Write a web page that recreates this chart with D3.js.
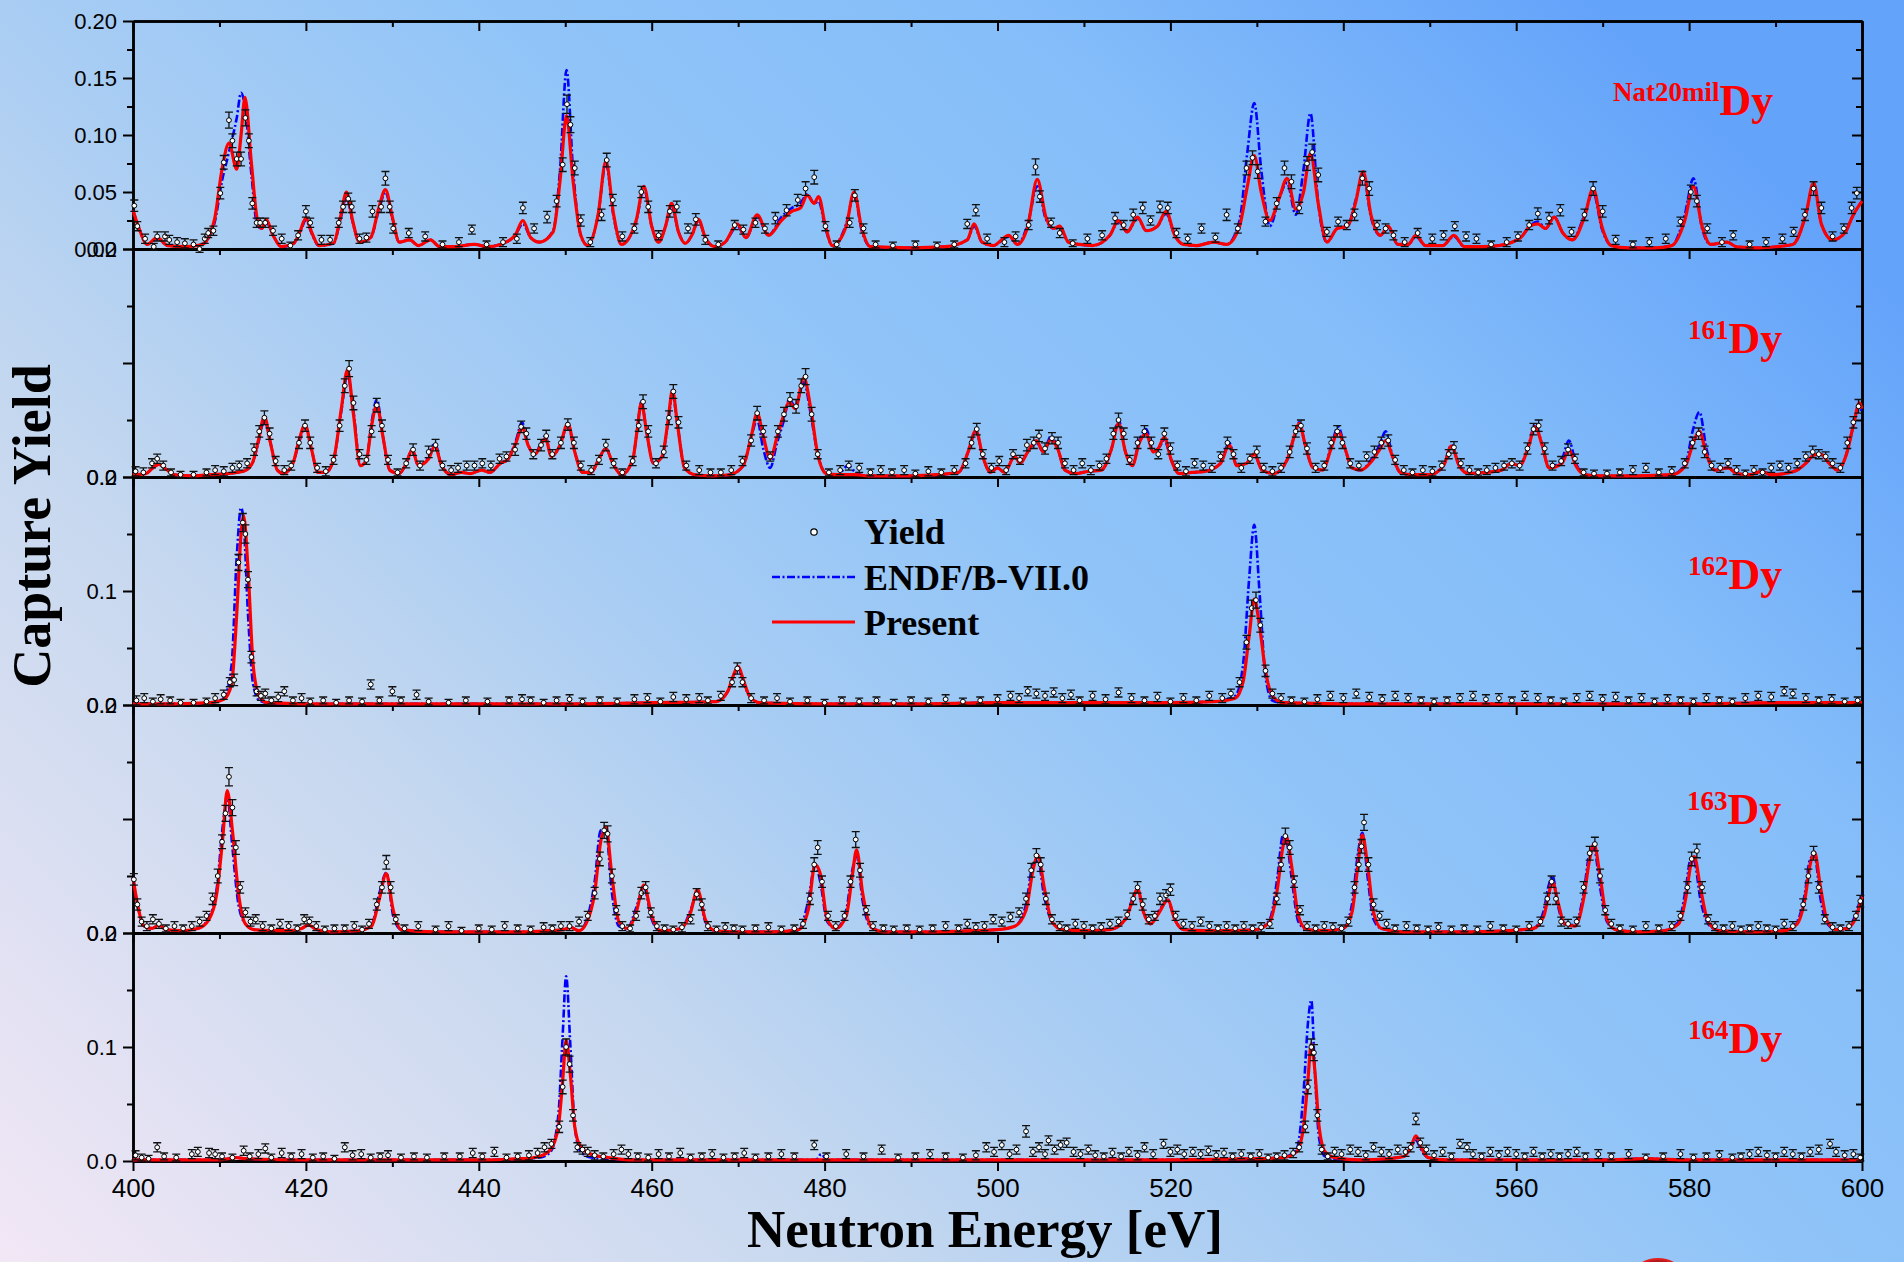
<!DOCTYPE html>
<html>
<head>
<meta charset="utf-8">
<title>Capture Yield - Dy isotopes</title>
<script src="https://d3js.org/d3.v7.min.js"></script>
<style>
  html, body { margin: 0; padding: 0; }
  body { width: 1904px; height: 1262px; overflow: hidden; }
</style>
</head>
<body>
<div id="chart"></div>
<script>
// curves: [energy eV, Present, ENDF/B-VII.0]
const natCurve = [
  [400,0.034,0.034],[400.8,0.016,0.016],[401.6,0.004,0.004],[402.8,0.010,0.009],[404,0.003,0.003],[406,0.002,0.002],[408,0.004,0.004],
  [409.4,0.025,0.022],[410.3,0.070,0.060],[411.1,0.093,0.085],[412,0.070,0.115],[412.5,0.100,0.137],[412.95,0.133,0.125],[413.7,0.075,0.065],[414.4,0.025,0.020],[414.9,0.018,0.018],[415.4,0.026,0.024],[416.2,0.012,0.012],[417.2,0.002,0.002],
  [418.6,0.005,0.005],[419.3,0.015,0.014],[420,0.027,0.025],[420.7,0.014,0.013],[421.5,0.003,0.003],
  [423.2,0.005,0.005],[424,0.028,0.026],[424.7,0.050,0.046],[425.4,0.025,0.024],[426.2,0.006,0.006],
  [427.5,0.010,0.010],[428.4,0.035,0.033],[429.2,0.052,0.050],[430,0.028,0.026],[430.8,0.006,0.006],
  [432,0.008,0.008],[433,0.003,0.003],[434.4,0.008,0.008],[435.5,0.002,0.002],[437,0.002,0.002],[439.5,0.004,0.004],[441,0.002,0.002],[442.5,0.004,0.004],
  [444.2,0.012,0.012],[445.1,0.025,0.022],[446,0.010,0.010],[447,0.006,0.006],[448.6,0.015,0.016],[449.4,0.060,0.070],[450.15,0.117,0.157],[450.9,0.060,0.070],[451.8,0.012,0.012],[452.6,0.003,0.003],
  [453.8,0.030,0.030],[454.7,0.077,0.075],[455.6,0.030,0.028],[456.5,0.004,0.004],
  [458.2,0.025,0.024],[459.1,0.055,0.053],[460,0.020,0.020],[460.8,0.006,0.006],
  [461.6,0.020,0.020],[462.3,0.040,0.038],[463.1,0.015,0.015],[463.9,0.005,0.005],
  [464.7,0.013,0.013],[465.4,0.026,0.025],[466.2,0.010,0.010],[467.3,0.002,0.002],
  [468.5,0.006,0.006],[469.9,0.022,0.020],[470.9,0.010,0.010],[472.2,0.030,0.028],[473.5,0.012,0.012],[475,0.025,0.028],[476.2,0.033,0.036],[477.2,0.036,0.040],[478,0.047,0.048],[478.8,0.040,0.040],[479.3,0.046,0.042],[480.1,0.020,0.018],[480.9,0.003,0.003],
  [482.5,0.020,0.022],[483.4,0.050,0.048],[484.3,0.018,0.016],[485.3,0.002,0.002],[490,0.001,0.001],[494,0.002,0.002],
  [496.5,0.008,0.008],[497.3,0.022,0.020],[498.2,0.006,0.006],[499.5,0.003,0.003],[501.3,0.012,0.011],[502.3,0.004,0.004],
  [503.5,0.020,0.022],[504.6,0.061,0.055],[505.6,0.028,0.026],[506.5,0.018,0.018],[507.2,0.020,0.019],[508.2,0.006,0.006],[509.5,0.004,0.004],[511,0.003,0.003],
  [513,0.012,0.012],[514,0.025,0.024],[515,0.015,0.015],[516.2,0.028,0.027],[517.2,0.016,0.016],[518.5,0.020,0.020],[519.5,0.033,0.031],[520.5,0.012,0.012],[521.5,0.004,0.004],[523,0.003,0.003],[525,0.006,0.006],[526.5,0.004,0.004],
  [528,0.020,0.025],[528.9,0.055,0.085],[529.7,0.082,0.128],[530.5,0.050,0.070],[531.5,0.025,0.020],[532.6,0.045,0.045],[533.5,0.062,0.058],[534.5,0.035,0.030],[535.4,0.050,0.070],[536.2,0.084,0.119],[537.1,0.040,0.040],[538.1,0.006,0.006],
  [539.3,0.018,0.018],[540.5,0.020,0.020],[541.4,0.040,0.042],[542.3,0.068,0.065],[543.2,0.030,0.028],[544.3,0.012,0.012],[545.2,0.020,0.019],[546.3,0.004,0.004],[547.5,0.004,0.004],[548.4,0.012,0.011],[549.5,0.003,0.003],[551.5,0.003,0.003],[552.8,0.012,0.011],[554,0.002,0.002],[556,0.002,0.002],[558,0.003,0.003],
  [560.5,0.010,0.010],[561.6,0.020,0.020],[562.5,0.022,0.024],[563.4,0.018,0.018],[564.4,0.028,0.028],[565.4,0.014,0.014],[566.5,0.008,0.008],[567.9,0.028,0.030],[568.9,0.053,0.050],[569.9,0.020,0.018],[571,0.003,0.003],[573,0.001,0.001],[576,0.001,0.001],[578,0.003,0.003],
  [579.5,0.025,0.030],[580.5,0.055,0.062],[581.5,0.020,0.018],[582.5,0.004,0.004],[584.4,0.006,0.006],[585.5,0.002,0.002],[588,0.001,0.001],[590,0.002,0.002],[592,0.004,0.004],
  [593.5,0.030,0.030],[594.4,0.058,0.057],[595.3,0.022,0.022],[596.6,0.008,0.008],[598,0.014,0.014],[599,0.030,0.030],[600,0.042,0.042]
];
const dy161Curve = [
  [400,0.002,0.002],[401.5,0.003,0.003],[402.3,0.008,0.008],[403,0.011,0.011],[403.8,0.007,0.007],[404.8,0.002,0.002],[407,0.001,0.001],[409,0.002,0.002],[411,0.003,0.003],[412.8,0.005,0.005],
  [413.8,0.012,0.012],[414.5,0.032,0.030],[415.2,0.053,0.050],[415.9,0.030,0.030],[416.7,0.006,0.006],[417.4,0.003,0.003],
  [418.5,0.012,0.012],[419.2,0.032,0.030],[419.9,0.046,0.044],[420.6,0.026,0.026],[421.4,0.004,0.004],[422.3,0.004,0.004],
  [423.2,0.015,0.015],[424.1,0.060,0.058],[424.8,0.094,0.090],[425.5,0.055,0.058],[426.3,0.010,0.010],
  [427,0.015,0.015],[427.6,0.045,0.048],[428.2,0.063,0.068],[428.9,0.036,0.036],[429.7,0.006,0.006],[430.8,0.003,0.003],
  [431.6,0.012,0.012],[432.3,0.024,0.024],[433,0.010,0.010],[434.2,0.016,0.018],[434.9,0.027,0.030],[435.7,0.010,0.010],[436.8,0.002,0.002],
  [438,0.004,0.004],[439,0.003,0.003],[440.3,0.006,0.006],[441.3,0.004,0.004],[442.5,0.012,0.012],[443.3,0.015,0.015],
  [444.3,0.030,0.032],[445,0.044,0.048],[445.7,0.028,0.028],[446.5,0.020,0.020],[447.3,0.030,0.032],[447.7,0.034,0.036],[448.4,0.018,0.018],[449.4,0.028,0.028],[450.3,0.047,0.046],[451.1,0.022,0.022],[452,0.004,0.004],
  [453,0.004,0.004],[453.9,0.016,0.016],[454.7,0.025,0.025],[455.5,0.012,0.012],[456.5,0.002,0.002],
  [457.8,0.015,0.015],[458.3,0.040,0.040],[458.8,0.065,0.066],[459.4,0.040,0.040],[460.2,0.012,0.012],
  [461.2,0.018,0.018],[461.9,0.050,0.048],[462.4,0.076,0.072],[463,0.045,0.045],[463.8,0.008,0.008],[465,0.002,0.002],[467,0.001,0.001],[469,0.002,0.002],
  [470.6,0.010,0.010],[471.5,0.035,0.035],[472.2,0.056,0.050],[472.9,0.036,0.025],[473.7,0.016,0.008],[474.5,0.035,0.030],[475.3,0.055,0.050],[475.9,0.066,0.068],[476.6,0.060,0.062],[477.6,0.087,0.083],[478.4,0.060,0.055],[479.2,0.020,0.020],[480.2,0.003,0.003],
  [481.5,0.002,0.002],[482.7,0.002,0.010],[483.6,0.002,0.004],[485,0.001,0.001],[487,0.001,0.001],[490,0.001,0.001],[493,0.002,0.002],
  [495.5,0.004,0.004],[496.6,0.022,0.022],[497.5,0.041,0.040],[498.3,0.018,0.018],[499.2,0.004,0.004],[500,0.008,0.008],[500.8,0.004,0.004],
  [502,0.018,0.018],[502.6,0.012,0.012],[503.5,0.022,0.022],[504.5,0.032,0.030],[505.3,0.022,0.022],[506.2,0.033,0.036],[507,0.024,0.024],[507.8,0.006,0.006],[509,0.003,0.003],[510.5,0.005,0.005],[512,0.006,0.006],
  [513.2,0.025,0.025],[514,0.047,0.050],[514.8,0.022,0.022],[515.6,0.010,0.010],[516.4,0.030,0.032],[517.2,0.038,0.042],[518,0.022,0.022],[518.6,0.025,0.025],[519.3,0.035,0.032],[520.1,0.015,0.015],[521,0.003,0.003],[522.5,0.004,0.004],[524,0.005,0.005],
  [525.8,0.012,0.012],[526.8,0.028,0.030],[527.7,0.010,0.010],[528.8,0.012,0.012],[529.7,0.020,0.020],[530.6,0.006,0.006],[532,0.003,0.003],
  [533.5,0.015,0.015],[534.3,0.035,0.035],[534.9,0.047,0.048],[535.6,0.028,0.028],[536.5,0.008,0.008],[537.6,0.006,0.006],
  [538.6,0.025,0.027],[539.4,0.040,0.044],[540.2,0.025,0.025],[541,0.008,0.008],[542,0.006,0.006],
  [543.3,0.014,0.016],[544.2,0.024,0.028],[544.9,0.032,0.040],[545.7,0.018,0.018],[546.6,0.004,0.004],[548,0.002,0.002],[550,0.002,0.002],
  [551.6,0.010,0.010],[552.5,0.027,0.028],[553.4,0.010,0.010],[554.5,0.003,0.003],[556.5,0.004,0.004],[558.3,0.006,0.006],[559.4,0.012,0.012],[560.4,0.010,0.010],
  [561.4,0.026,0.027],[562.2,0.044,0.046],[563,0.028,0.028],[563.8,0.008,0.008],[565.3,0.012,0.016],[566.1,0.024,0.032],[566.9,0.010,0.012],[568,0.002,0.002],[570,0.001,0.001],[574,0.001,0.001],[578,0.002,0.002],
  [579.6,0.010,0.012],[580.4,0.028,0.040],[581.2,0.040,0.057],[582,0.020,0.025],[583,0.006,0.006],[584.5,0.008,0.008],[585.5,0.003,0.003],[587,0.002,0.002],[588.4,0.005,0.005],[589.5,0.002,0.002],[591,0.003,0.003],
  [592.5,0.006,0.006],[593.5,0.012,0.012],[594.4,0.019,0.019],[595.2,0.020,0.020],[596.2,0.012,0.012],[597.2,0.006,0.006],[598.2,0.020,0.020],[599,0.045,0.045],[599.7,0.065,0.062],[600,0.060,0.056]
];
const dy162Curve = [
  [400,0.001,0.001],[405,0.001,0.001],[409,0.002,0.002],[410.5,0.005,0.006],[411.4,0.018,0.035],[412,0.080,0.130],[412.5,0.150,0.173],[412.8,0.166,0.160],[413.3,0.120,0.080],[413.9,0.035,0.018],[414.6,0.008,0.004],[415.5,0.002,0.002],
  [420,0.001,0.001],[430,0.001,0.001],[440,0.001,0.001],[450,0.001,0.001],[460,0.002,0.002],
  [467.5,0.003,0.003],[468.8,0.012,0.012],[469.4,0.025,0.024],[470,0.034,0.032],[470.6,0.022,0.020],[471.3,0.008,0.008],[472.5,0.002,0.002],
  [480,0.001,0.001],[490,0.001,0.001],[500,0.002,0.002],[510,0.002,0.002],[520,0.002,0.002],[525,0.003,0.003],
  [527.5,0.006,0.008],[528.4,0.020,0.035],[529.1,0.060,0.110],[529.7,0.093,0.158],[530.3,0.070,0.100],[531,0.030,0.025],[531.8,0.008,0.004],[533,0.002,0.002],
  [540,0.001,0.001],[550,0.001,0.001],[560,0.001,0.001],[570,0.001,0.001],[580,0.001,0.001],[590,0.002,0.002],[600,0.002,0.002]
];
const dy163Curve = [
  [400,0.049,0.049],[400.6,0.022,0.022],[401.3,0.006,0.006],[402.2,0.004,0.004],[403,0.007,0.007],[403.8,0.003,0.003],[405.5,0.002,0.002],[407.5,0.004,0.004],
  [408.8,0.012,0.014],[409.7,0.035,0.040],[410.4,0.085,0.095],[410.9,0.125,0.120],[411.5,0.090,0.075],[412.2,0.035,0.025],[413,0.008,0.008],[414,0.003,0.003],[416,0.002,0.002],[418,0.002,0.002],
  [419.5,0.004,0.004],[420.3,0.007,0.007],[421.2,0.003,0.003],[423,0.001,0.001],[426,0.002,0.002],
  [427.6,0.006,0.007],[428.5,0.030,0.035],[429.3,0.052,0.053],[430.1,0.020,0.015],[431,0.003,0.003],[435,0.001,0.001],[440,0.001,0.001],[445,0.001,0.001],[448,0.002,0.002],
  [449.8,0.003,0.003],[450.6,0.005,0.005],[451.6,0.002,0.002],[452.4,0.008,0.010],[453.4,0.035,0.045],[454.1,0.080,0.090],[454.7,0.093,0.090],[455.4,0.050,0.035],[456.2,0.010,0.006],[457.2,0.004,0.004],
  [458.2,0.018,0.022],[459.1,0.042,0.040],[460,0.015,0.012],[461,0.002,0.002],[463.4,0.004,0.004],[464.5,0.018,0.020],[465.3,0.038,0.036],[466.2,0.012,0.010],[467.3,0.002,0.002],
  [470,0.001,0.001],[474,0.001,0.001],[477,0.003,0.003],[478.1,0.020,0.028],[478.9,0.060,0.060],[479.5,0.052,0.045],[480.3,0.012,0.010],[481.3,0.004,0.004],
  [482.5,0.015,0.020],[483.2,0.050,0.055],[483.7,0.073,0.068],[484.4,0.035,0.028],[485.4,0.005,0.005],[487,0.001,0.001],[492,0.001,0.001],[497,0.002,0.002],[500,0.003,0.003],[502,0.006,0.006],
  [503.3,0.020,0.025],[504.1,0.055,0.060],[504.7,0.068,0.063],[505.4,0.040,0.032],[506.3,0.010,0.010],[507.5,0.003,0.003],[510,0.002,0.002],[513,0.003,0.003],
  [514.8,0.012,0.012],[515.6,0.028,0.030],[516.2,0.039,0.038],[516.9,0.018,0.018],[517.7,0.008,0.008],[518.7,0.018,0.020],[519.7,0.029,0.028],[520.5,0.012,0.012],[521.5,0.003,0.003],[524,0.002,0.002],[527,0.002,0.002],[530,0.003,0.003],
  [531.5,0.010,0.012],[532.4,0.040,0.050],[533,0.075,0.085],[533.4,0.085,0.082],[534,0.060,0.050],[534.8,0.015,0.010],[535.8,0.003,0.003],[538,0.002,0.002],
  [540,0.004,0.004],[541,0.018,0.025],[541.7,0.060,0.070],[542.2,0.086,0.088],[542.8,0.060,0.050],[543.5,0.018,0.012],[544.4,0.004,0.004],[547,0.001,0.001],[551,0.001,0.001],[555,0.001,0.001],[559,0.002,0.002],
  [562,0.004,0.004],[563.2,0.015,0.020],[563.7,0.032,0.040],[564.2,0.045,0.050],[564.8,0.028,0.025],[565.6,0.008,0.008],[566.8,0.006,0.007],
  [567.8,0.030,0.035],[568.5,0.065,0.070],[569,0.078,0.074],[569.7,0.050,0.040],[570.5,0.012,0.010],[571.5,0.003,0.003],[574,0.001,0.001],[577,0.002,0.002],
  [578.8,0.008,0.010],[579.6,0.030,0.038],[580.2,0.060,0.065],[580.6,0.067,0.063],[581.3,0.040,0.030],[582.2,0.010,0.008],[583.5,0.002,0.002],[587,0.001,0.001],[591,0.002,0.002],
  [592.5,0.008,0.010],[593.4,0.030,0.035],[594,0.060,0.065],[594.5,0.071,0.068],[595.2,0.040,0.030],[596,0.010,0.008],[597,0.003,0.003],[598.2,0.004,0.004],[599.2,0.012,0.015],[600,0.032,0.035]
];
const dy164Curve = [
  [400,0.001,0.001],[410,0.001,0.001],[411,0.002,0.002],[412,0.003,0.003],[413,0.002,0.002],[420,0.001,0.001],[430,0.001,0.001],[440,0.001,0.001],[445,0.002,0.002],[447,0.004,0.003],
  [448.3,0.010,0.008],[449.2,0.030,0.040],[449.7,0.070,0.110],[450.1,0.106,0.162],[450.6,0.075,0.100],[451.1,0.030,0.030],[451.8,0.012,0.008],[453,0.006,0.003],[455,0.003,0.002],[458,0.001,0.001],
  [470,0.001,0.001],[479,0.001,0.001],[479.6,0.001,0.006],[480.3,0.001,0.001],[490,0.001,0.001],[500,0.001,0.001],[510,0.001,0.001],[520,0.001,0.001],[530,0.002,0.002],[533,0.003,0.003],
  [534.6,0.008,0.010],[535.4,0.030,0.060],[535.9,0.070,0.120],[536.3,0.103,0.141],[536.7,0.080,0.080],[537.2,0.030,0.020],[537.9,0.008,0.004],[539,0.003,0.002],[542,0.001,0.001],
  [545,0.002,0.002],[547,0.004,0.004],[547.8,0.012,0.012],[548.4,0.022,0.018],[549,0.012,0.010],[549.8,0.003,0.003],[552,0.001,0.001],
  [560,0.001,0.001],[570,0.001,0.001],[575,0.002,0.002],[580,0.001,0.001],[590,0.001,0.001],[600,0.001,0.001]
];

// measured yield: [energy eV, yield, uncertainty]
const natYield = [
  [400.15,0.038,0.005],[400.5,0.020,0.004],[401.4,0.009,0.004],[402.4,0.002,0.003],[402.8,0.011,0.004],[403.7,0.011,0.004],[404.2,0.008,0.004],[405.1,0.006,0.004],[406,0.005,0.004],[407,0.004,0.004],[407.7,0.000,0.003],[408.3,0.009,0.004],[408.7,0.014,0.004],[409.3,0.016,0.004],
  [410.1,0.049,0.005],[410.5,0.076,0.006],[411.1,0.113,0.007],[411.5,0.095,0.006],[412,0.079,0.006],[412.5,0.079,0.006],[413,0.115,0.007],[413.4,0.095,0.006],[413.8,0.040,0.005],[414.3,0.023,0.004],[414.7,0.023,0.004],[415.3,0.023,0.004],[416.2,0.016,0.004],[417.2,0.009,0.004],[418.2,0.003,0.003],[419.1,0.012,0.004],
  [420,0.033,0.005],[420.5,0.023,0.004],[421.8,0.008,0.004],[422.8,0.008,0.004],[423.8,0.023,0.004],[424.3,0.037,0.005],[424.9,0.044,0.005],[425.3,0.037,0.005],[426.2,0.009,0.004],[427,0.010,0.004],[427.7,0.033,0.005],[428.7,0.037,0.005],[429.2,0.062,0.006],[429.7,0.037,0.005],[430.1,0.018,0.004],
  [431.9,0.014,0.004],[433.8,0.011,0.004],[435.8,0.004,0.003],[437.7,0.006,0.004],[439.2,0.017,0.004],[440.9,0.004,0.003],[442.8,0.006,0.004],[444.4,0.009,0.004],[445.1,0.036,0.005],[446.4,0.018,0.004],[447.9,0.028,0.005],[449,0.042,0.005],[449.7,0.074,0.006],[450.2,0.127,0.008],[450.6,0.109,0.007],[451.1,0.071,0.006],[451.8,0.025,0.005],[452.9,0.006,0.004],
  [454.2,0.030,0.005],[454.8,0.078,0.006],[455.5,0.043,0.005],[456.6,0.011,0.004],[458,0.018,0.004],[458.8,0.050,0.005],[459.6,0.037,0.005],[460.8,0.012,0.004],[462.1,0.033,0.005],[462.9,0.037,0.005],[464.2,0.018,0.004],[465.1,0.026,0.005],[466.2,0.008,0.004],[467.7,0.004,0.003],
  [469.6,0.021,0.004],[470.6,0.017,0.004],[472,0.023,0.004],[473.1,0.018,0.004],[474.3,0.027,0.005],[475.6,0.034,0.005],[476.9,0.043,0.005],[477.8,0.053,0.006],[478.8,0.063,0.006],[480.1,0.020,0.004],[481.4,0.004,0.003],[482.9,0.023,0.004],[483.5,0.047,0.005],[484.5,0.018,0.004],[485.9,0.004,0.003],
  [487.9,0.003,0.003],[490.5,0.004,0.003],[493,0.003,0.003],[495,0.004,0.003],[496.5,0.022,0.004],[497.5,0.034,0.005],[498.8,0.009,0.004],[500.8,0.006,0.004],[502.1,0.011,0.004],[503.6,0.021,0.004],[504.4,0.072,0.007],[504.9,0.046,0.005],[506.2,0.023,0.004],[507.2,0.014,0.004],[508.7,0.005,0.003],
  [510.4,0.009,0.004],[512.1,0.012,0.004],[513.6,0.027,0.005],[514.6,0.021,0.004],[515.7,0.030,0.005],[516.8,0.036,0.005],[517.7,0.025,0.004],[518.8,0.037,0.005],[519.7,0.036,0.005],[520.7,0.014,0.004],[522,0.009,0.004],[523.6,0.018,0.004],[525.2,0.010,0.004],[526.5,0.030,0.005],[527.8,0.018,0.004],
  [528.8,0.071,0.006],[529.5,0.080,0.006],[530.1,0.068,0.006],[531,0.024,0.004],[532.3,0.040,0.005],[533.2,0.071,0.006],[534,0.059,0.006],[534.9,0.036,0.005],[535.8,0.075,0.006],[536.4,0.085,0.007],[537.1,0.065,0.006],[538.1,0.015,0.004],[539.4,0.024,0.004],[540.4,0.021,0.004],
  [541.3,0.030,0.005],[542.2,0.062,0.006],[543,0.053,0.006],[543.9,0.021,0.004],[544.9,0.018,0.004],[545.8,0.012,0.004],[547.1,0.006,0.004],[548.6,0.014,0.004],[550.3,0.009,0.004],[551.6,0.012,0.004],[552.9,0.020,0.004],[554.2,0.011,0.004],[555.4,0.009,0.004],[557.1,0.004,0.003],[558.9,0.006,0.004],
  [560.2,0.011,0.004],[561.5,0.021,0.004],[562.5,0.031,0.005],[563.8,0.027,0.005],[565.1,0.034,0.005],[566.4,0.015,0.004],[567.9,0.030,0.005],[568.9,0.053,0.006],[570,0.033,0.005],[571.5,0.008,0.004],[573.5,0.004,0.003],[575.4,0.006,0.004],[577.3,0.009,0.004],
  [579,0.024,0.004],[580.2,0.050,0.006],[580.9,0.042,0.005],[582.1,0.018,0.004],[583.8,0.006,0.004],[585.1,0.012,0.004],[587,0.004,0.003],[588.9,0.006,0.004],[590.8,0.009,0.004],[592.1,0.015,0.004],[593.4,0.030,0.005],[594.4,0.053,0.006],[595.3,0.036,0.005],[596.6,0.011,0.004],[597.9,0.018,0.004],[598.8,0.036,0.005],[599.4,0.049,0.005]
];
const dy161Yield = [
  [400.3,0.005,0.004],[401.2,0.004,0.004],[402.2,0.012,0.004],[402.8,0.016,0.004],[403.5,0.010,0.004],[404.4,0.004,0.003],[405.5,0.002,0.003],[407,0.002,0.003],[408.5,0.004,0.003],[409.5,0.006,0.004],[410.5,0.005,0.004],[411.5,0.008,0.004],[412.3,0.010,0.004],[413.2,0.012,0.004],
  [414,0.024,0.005],[414.6,0.040,0.005],[415.2,0.052,0.006],[415.8,0.038,0.005],[416.5,0.014,0.004],[417.5,0.006,0.004],[418.3,0.010,0.004],[419.2,0.030,0.005],[419.9,0.045,0.005],[420.5,0.030,0.005],[421.3,0.008,0.004],[422.3,0.005,0.004],
  [423.2,0.015,0.004],[423.9,0.045,0.005],[424.5,0.080,0.006],[425,0.095,0.007],[425.5,0.065,0.006],[426.2,0.020,0.004],[427,0.015,0.004],[427.6,0.040,0.005],[428.2,0.063,0.006],[428.8,0.045,0.005],[429.5,0.015,0.004],[430.6,0.004,0.003],
  [431.6,0.012,0.004],[432.4,0.024,0.005],[433.2,0.010,0.004],[434.2,0.022,0.005],[435,0.028,0.005],[435.8,0.010,0.004],[436.8,0.006,0.004],[437.6,0.008,0.004],[438.6,0.010,0.004],[439.5,0.010,0.004],[440.4,0.012,0.004],[441.4,0.010,0.004],[442.4,0.016,0.004],[443.2,0.018,0.004],
  [444.2,0.024,0.005],[444.9,0.044,0.005],[445.5,0.038,0.005],[446.3,0.020,0.004],[447.2,0.028,0.005],[447.8,0.036,0.005],[448.5,0.020,0.004],[449.5,0.030,0.005],[450.3,0.046,0.005],[451,0.030,0.005],[451.8,0.010,0.004],[453,0.006,0.004],[453.9,0.015,0.004],[454.7,0.028,0.005],[455.6,0.012,0.004],[456.6,0.004,0.003],
  [457.8,0.014,0.004],[458.5,0.045,0.005],[459,0.066,0.006],[459.6,0.040,0.005],[460.5,0.012,0.004],[461.4,0.022,0.005],[462,0.052,0.006],[462.5,0.075,0.006],[463.1,0.048,0.005],[464,0.010,0.004],[465.5,0.006,0.004],[466.8,0.004,0.003],[468,0.004,0.003],[469.2,0.006,0.004],
  [470.5,0.014,0.004],[471.5,0.032,0.005],[472.2,0.056,0.006],[472.9,0.040,0.005],[473.7,0.018,0.004],[474.6,0.040,0.005],[475.3,0.055,0.006],[476,0.068,0.006],[476.7,0.062,0.006],[477.3,0.080,0.006],[477.8,0.088,0.007],[478.5,0.055,0.006],[479.2,0.020,0.004],
  [480.5,0.004,0.003],[481.8,0.006,0.004],[482.8,0.010,0.004],[484,0.008,0.004],[485.3,0.004,0.003],[486.5,0.006,0.004],[487.8,0.004,0.003],[489.2,0.006,0.004],[490.5,0.003,0.003],[492,0.005,0.004],[493.5,0.004,0.003],[495,0.006,0.004],
  [496.3,0.012,0.004],[497,0.030,0.005],[497.6,0.042,0.005],[498.3,0.020,0.004],[499.3,0.008,0.004],[500.2,0.014,0.004],[501,0.006,0.004],[501.8,0.020,0.004],[502.6,0.015,0.004],[503.4,0.028,0.005],[504.2,0.030,0.005],[504.8,0.036,0.005],[505.5,0.025,0.005],[506.3,0.034,0.005],[507,0.030,0.005],[507.8,0.012,0.004],
  [508.8,0.006,0.004],[509.8,0.012,0.004],[510.8,0.006,0.004],[511.8,0.010,0.004],[512.6,0.016,0.004],[513.4,0.038,0.005],[514,0.050,0.006],[514.6,0.038,0.005],[515.3,0.015,0.004],[516.2,0.030,0.005],[517,0.040,0.005],[517.8,0.030,0.005],[518.6,0.020,0.004],[519.3,0.038,0.005],[520,0.025,0.005],[520.8,0.010,0.004],
  [521.8,0.005,0.004],[522.8,0.012,0.004],[523.8,0.010,0.004],[524.8,0.008,0.004],[525.8,0.018,0.004],[526.6,0.030,0.005],[527.3,0.020,0.004],[528.2,0.008,0.004],[529.2,0.016,0.004],[530,0.022,0.005],[530.8,0.008,0.004],[531.8,0.005,0.004],[532.8,0.008,0.004],
  [533.8,0.022,0.005],[534.5,0.040,0.005],[535.1,0.045,0.005],[535.8,0.025,0.005],[536.8,0.008,0.004],[537.8,0.010,0.004],[538.6,0.030,0.005],[539.3,0.040,0.005],[539.9,0.030,0.005],[540.8,0.012,0.004],[541.8,0.010,0.004],[542.7,0.018,0.004],[543.6,0.022,0.005],[544.4,0.030,0.005],[545.2,0.032,0.005],[546,0.015,0.004],
  [547,0.006,0.004],[548,0.004,0.003],[549.2,0.006,0.004],[550.3,0.005,0.004],[551.4,0.010,0.004],[552.2,0.020,0.004],[552.8,0.026,0.005],[553.6,0.012,0.004],[554.6,0.006,0.004],[555.6,0.004,0.003],[556.6,0.006,0.004],[557.6,0.008,0.004],[558.6,0.010,0.004],[559.5,0.012,0.004],[560.4,0.010,0.004],
  [561.3,0.025,0.005],[562,0.042,0.005],[562.6,0.045,0.005],[563.3,0.025,0.005],[564.2,0.010,0.004],[565.2,0.014,0.004],[566,0.024,0.005],[566.8,0.016,0.004],[567.8,0.004,0.003],[569,0.003,0.003],[570.5,0.003,0.003],[572,0.004,0.003],[573.5,0.006,0.004],[575,0.008,0.004],[576.5,0.004,0.003],[578,0.005,0.004],
  [579.5,0.012,0.004],[580.4,0.030,0.005],[581.1,0.038,0.005],[581.8,0.022,0.005],[582.6,0.010,0.004],[583.6,0.008,0.004],[584.5,0.012,0.004],[585.5,0.006,0.004],[586.5,0.003,0.003],[587.5,0.006,0.004],[588.5,0.004,0.003],[589.5,0.008,0.004],[590.5,0.010,0.004],[591.5,0.008,0.004],
  [592.5,0.012,0.004],[593.5,0.018,0.004],[594.3,0.022,0.005],[595,0.020,0.004],[595.8,0.018,0.004],[596.6,0.012,0.004],[597.5,0.008,0.004],[598.3,0.030,0.005],[599,0.048,0.005],[599.6,0.062,0.006]
];
const dy162Yield = [
  [400.4,0.004,0.004],[401.3,0.006,0.004],[402.3,0.003,0.003],[403.2,0.005,0.004],[404.3,0.004,0.003],[405.5,0.002,0.003],[407,0.002,0.003],[408.5,0.003,0.003],[409.5,0.006,0.004],[410.5,0.009,0.004],[411.2,0.020,0.004],[411.7,0.022,0.005],
  [412.2,0.125,0.007],[412.7,0.160,0.008],[413,0.150,0.008],[413.3,0.110,0.007],[413.7,0.042,0.005],[414.3,0.012,0.004],[414.8,0.008,0.004],[415.3,0.010,0.004],[416,0.004,0.003],[416.8,0.007,0.004],[417.5,0.012,0.004],[418.5,0.004,0.003],[419.5,0.006,0.004],[420.5,0.003,0.003],
  [422,0.004,0.003],[423.5,0.002,0.003],[425,0.004,0.003],[426.5,0.003,0.003],[427.5,0.018,0.004],[428.5,0.004,0.003],[430,0.012,0.004],[431,0.004,0.003],[432.8,0.009,0.004],[434.2,0.003,0.003],[436.5,0.002,0.003],[438.5,0.004,0.003],[441,0.003,0.003],[443.5,0.004,0.003],
  [445,0.005,0.004],[446,0.004,0.003],[447.5,0.002,0.003],[449,0.004,0.003],[450.5,0.005,0.004],[452,0.003,0.003],[454,0.004,0.003],[456,0.003,0.003],[458,0.005,0.004],[459.5,0.006,0.004],[461,0.003,0.003],[462.5,0.007,0.004],[464,0.005,0.004],[465.5,0.006,0.004],[466.5,0.004,0.003],
  [468,0.008,0.004],[469.3,0.020,0.004],[469.9,0.032,0.005],[470.5,0.020,0.004],[471.5,0.006,0.004],[473,0.004,0.003],[474.5,0.006,0.004],[476,0.003,0.003],[478,0.004,0.003],[480,0.002,0.003],[482,0.004,0.003],[484,0.003,0.003],[486,0.004,0.003],[488,0.002,0.003],
  [490,0.004,0.003],[492,0.003,0.003],[494,0.005,0.004],[496,0.003,0.003],[498,0.004,0.003],[500,0.005,0.004],[501.5,0.008,0.004],[502.5,0.006,0.004],[503.5,0.012,0.004],[504.5,0.010,0.004],[505.5,0.008,0.004],[506.5,0.011,0.004],[507.5,0.006,0.004],[508.5,0.009,0.004],
  [509.5,0.004,0.003],[511,0.008,0.004],[512.5,0.005,0.004],[514,0.011,0.004],[515.5,0.006,0.004],[517,0.004,0.003],[518.5,0.007,0.004],[520,0.003,0.003],[521.5,0.006,0.004],[523,0.004,0.003],[524.5,0.008,0.004],[526,0.006,0.004],[527,0.010,0.004],
  [528,0.020,0.004],[528.8,0.055,0.006],[529.4,0.085,0.007],[529.9,0.092,0.007],[530.4,0.070,0.006],[531,0.030,0.005],[531.8,0.010,0.004],[532.8,0.006,0.004],[534,0.004,0.003],[535.5,0.003,0.003],[537,0.005,0.004],[538.5,0.008,0.004],[540,0.006,0.004],
  [541.5,0.010,0.004],[543,0.007,0.004],[544.5,0.005,0.004],[546,0.008,0.004],[547.5,0.006,0.004],[549,0.004,0.003],[550.5,0.003,0.003],[552,0.004,0.003],[553.5,0.006,0.004],[555,0.008,0.004],[556.5,0.005,0.004],[558,0.006,0.004],[559.5,0.004,0.003],
  [561,0.008,0.004],[562.5,0.006,0.004],[564,0.004,0.003],[565.5,0.003,0.003],[567,0.006,0.004],[568.5,0.008,0.004],[570,0.005,0.004],[571.5,0.007,0.004],[573,0.004,0.003],[574.5,0.006,0.004],[576,0.003,0.003],[577.5,0.005,0.004],[579,0.004,0.003],
  [580.5,0.003,0.003],[582,0.006,0.004],[583.5,0.004,0.003],[585,0.003,0.003],[586.5,0.006,0.004],[588,0.008,0.004],[589.5,0.007,0.004],[591,0.012,0.004],[592,0.010,0.004],[593.5,0.006,0.004],[595,0.004,0.003],[596.5,0.005,0.004],[598,0.003,0.003],[599.5,0.004,0.003]
];
const dy163Yield = [
  [400.1,0.047,0.005],[400.5,0.025,0.005],[401,0.010,0.004],[401.6,0.006,0.004],[402.3,0.012,0.004],[403,0.008,0.004],[403.8,0.004,0.003],[404.8,0.006,0.004],[405.8,0.004,0.003],[406.8,0.006,0.004],[407.7,0.010,0.004],[408.5,0.015,0.004],
  [409.2,0.030,0.005],[409.8,0.050,0.006],[410.3,0.080,0.006],[410.7,0.105,0.007],[411.1,0.137,0.008],[411.5,0.110,0.007],[411.9,0.075,0.006],[412.4,0.040,0.005],[413,0.018,0.004],[413.6,0.010,0.004],[414.2,0.012,0.004],[415,0.006,0.004],[416,0.004,0.003],[417,0.008,0.004],
  [418,0.006,0.004],[419,0.004,0.003],[419.8,0.012,0.004],[420.4,0.010,0.004],[421.2,0.006,0.004],[422.2,0.003,0.003],[423.3,0.004,0.003],[424.5,0.004,0.003],[425.6,0.006,0.004],[426.5,0.003,0.003],[427.3,0.008,0.004],
  [428.2,0.025,0.005],[428.8,0.040,0.005],[429.3,0.062,0.006],[429.8,0.040,0.005],[430.4,0.012,0.004],[431.4,0.004,0.003],[433,0.006,0.004],[435,0.003,0.003],[436.5,0.006,0.004],[438,0.002,0.003],[440,0.004,0.003],[441.5,0.003,0.003],[443,0.006,0.004],[444.5,0.004,0.003],
  [446,0.003,0.003],[447.5,0.005,0.004],[448.5,0.004,0.003],[449.5,0.006,0.004],[450.5,0.006,0.004],[451.6,0.010,0.004],[452.6,0.015,0.004],[453.4,0.035,0.005],[454,0.065,0.006],[454.5,0.090,0.007],[454.9,0.087,0.007],[455.4,0.050,0.006],[455.9,0.020,0.004],[456.6,0.006,0.004],
  [457.5,0.004,0.003],[458.2,0.015,0.004],[458.8,0.035,0.005],[459.3,0.040,0.005],[459.9,0.018,0.004],[460.6,0.006,0.004],[461.5,0.004,0.003],[462.5,0.003,0.003],[463.5,0.005,0.004],[464.5,0.012,0.004],[465.2,0.034,0.005],[465.8,0.025,0.005],[466.5,0.006,0.004],
  [467.5,0.003,0.003],[468.5,0.005,0.004],[469.5,0.004,0.003],[470.5,0.003,0.003],[472,0.004,0.003],[473.5,0.005,0.004],[475,0.003,0.003],[476.5,0.004,0.003],[477.5,0.008,0.004],[478.3,0.030,0.005],[478.8,0.060,0.006],[479.2,0.075,0.006],[479.7,0.045,0.005],[480.4,0.015,0.004],
  [481.3,0.006,0.004],[482.3,0.015,0.004],[483,0.045,0.005],[483.6,0.082,0.007],[484.1,0.055,0.006],[484.8,0.020,0.004],[485.6,0.006,0.004],[486.8,0.004,0.003],[488,0.003,0.003],[489.5,0.004,0.003],[491,0.003,0.003],[492.5,0.004,0.003],[494,0.006,0.004],[495.5,0.004,0.003],
  [496.5,0.008,0.004],[497.5,0.005,0.004],[498.5,0.006,0.004],[499.5,0.012,0.004],[500.5,0.010,0.004],[501.5,0.014,0.004],[502.5,0.018,0.004],[503.3,0.030,0.005],[503.9,0.055,0.006],[504.5,0.068,0.006],[505,0.060,0.006],[505.6,0.030,0.005],[506.3,0.012,0.004],
  [507.2,0.006,0.004],[508,0.004,0.003],[509,0.008,0.004],[510,0.006,0.004],[511,0.004,0.003],[512,0.005,0.004],[513,0.008,0.004],[514,0.010,0.004],[515,0.016,0.004],[515.7,0.030,0.005],[516.2,0.040,0.005],[516.8,0.025,0.005],[517.5,0.012,0.004],
  [518.2,0.015,0.004],[518.8,0.030,0.005],[519.5,0.033,0.005],[520,0.038,0.005],[520.6,0.015,0.004],[521.5,0.008,0.004],[522.5,0.006,0.004],[523.5,0.010,0.004],[524.5,0.006,0.004],[525.5,0.004,0.003],[526.5,0.006,0.004],[527.5,0.004,0.003],[528.5,0.006,0.004],[529.5,0.004,0.003],
  [530.5,0.005,0.004],[531.5,0.008,0.004],[532.3,0.030,0.005],[532.8,0.060,0.006],[533.3,0.085,0.007],[533.8,0.075,0.006],[534.3,0.045,0.005],[535,0.020,0.004],[535.8,0.006,0.004],[536.8,0.004,0.003],[537.8,0.006,0.004],[538.8,0.005,0.004],[539.8,0.004,0.003],
  [540.6,0.010,0.004],[541.3,0.040,0.005],[541.8,0.060,0.006],[542.1,0.076,0.006],[542.4,0.097,0.007],[542.9,0.060,0.006],[543.5,0.025,0.005],[544.2,0.015,0.004],[545,0.008,0.004],[546,0.004,0.003],[547.3,0.006,0.004],[548.5,0.004,0.003],[549.8,0.003,0.003],
  [551,0.005,0.004],[552.5,0.003,0.003],[554,0.004,0.003],[555.5,0.003,0.003],[557,0.006,0.004],[558.5,0.004,0.003],[560,0.003,0.003],[561.5,0.006,0.004],[562.8,0.010,0.004],[563.6,0.030,0.005],[564.1,0.045,0.005],[564.6,0.030,0.005],[565.2,0.010,0.004],
  [566,0.008,0.004],[567,0.010,0.004],[567.8,0.040,0.005],[568.5,0.070,0.006],[569.1,0.078,0.006],[569.7,0.050,0.006],[570.3,0.020,0.004],[571,0.008,0.004],[572,0.004,0.003],[573.5,0.003,0.003],[575,0.006,0.004],[576.5,0.004,0.003],[578,0.006,0.004],
  [579,0.015,0.004],[579.8,0.040,0.005],[580.3,0.065,0.006],[580.9,0.072,0.006],[581.5,0.040,0.005],[582.2,0.012,0.004],[583,0.006,0.004],[584,0.004,0.003],[585,0.006,0.004],[586,0.003,0.003],[587,0.004,0.003],[588,0.006,0.004],[589,0.004,0.003],[590,0.003,0.003],
  [591,0.008,0.004],[592,0.006,0.004],[593.2,0.025,0.005],[593.8,0.050,0.006],[594.4,0.070,0.006],[595,0.040,0.005],[595.7,0.012,0.004],[596.6,0.005,0.004],[597.5,0.004,0.003],[598.5,0.006,0.004],[599.3,0.015,0.004],[599.8,0.028,0.005]
];
const dy164Yield = [
  [400.3,0.005,0.004],[401,0.003,0.003],[401.8,0.002,0.003],[402.8,0.012,0.004],[403.6,0.004,0.003],[405,0.003,0.003],[406.8,0.006,0.004],[407.5,0.008,0.004],[408.8,0.007,0.004],[409.5,0.006,0.004],[410.3,0.004,0.003],[411.5,0.003,0.003],[412.8,0.009,0.004],[413.5,0.004,0.003],
  [414.5,0.006,0.004],[415.3,0.011,0.004],[416,0.003,0.003],[417.2,0.007,0.004],[418.3,0.004,0.003],[419.5,0.006,0.004],[420.8,0.003,0.003],[422,0.004,0.003],[423.3,0.002,0.003],[424.5,0.012,0.004],[425.4,0.005,0.004],[426.4,0.006,0.004],[427.5,0.003,0.003],[428.6,0.004,0.003],
  [429.5,0.005,0.004],[431,0.003,0.003],[432.5,0.004,0.003],[434,0.003,0.003],[436,0.004,0.003],[437.8,0.004,0.003],[439.3,0.007,0.004],[440.4,0.004,0.003],[441.8,0.008,0.004],[443.2,0.003,0.003],[444.5,0.004,0.003],[445.8,0.005,0.004],[446.8,0.007,0.004],[447.6,0.012,0.004],[448.4,0.015,0.004],
  [449.3,0.030,0.005],[449.7,0.065,0.006],[450.1,0.100,0.007],[450.5,0.085,0.007],[450.9,0.040,0.005],[451.4,0.012,0.004],[452,0.010,0.004],[452.6,0.008,0.004],[453.4,0.005,0.004],[454.4,0.004,0.003],[455.6,0.006,0.004],[456.5,0.010,0.004],[457.3,0.006,0.004],[458.4,0.004,0.003],
  [459.6,0.003,0.003],[460.8,0.006,0.004],[462,0.004,0.003],[463.3,0.007,0.004],[464.5,0.003,0.003],[465.8,0.004,0.003],[467,0.006,0.004],[468.3,0.003,0.003],[469.6,0.004,0.003],[470.7,0.007,0.004],[472,0.003,0.003],[473.5,0.004,0.003],[475,0.006,0.004],[476.5,0.004,0.003],
  [478.8,0.014,0.004],[480.2,0.004,0.003],[482.5,0.006,0.004],[484.5,0.004,0.003],[486.6,0.010,0.004],[488.5,0.003,0.003],[490.5,0.004,0.003],[492.2,0.006,0.004],[494,0.004,0.003],[496,0.003,0.003],[497.5,0.005,0.004],[498.7,0.012,0.004],[499.6,0.008,0.004],[500.5,0.014,0.004],
  [501.4,0.006,0.004],[502.2,0.010,0.004],[503.3,0.026,0.005],[504.1,0.008,0.004],[504.8,0.012,0.004],[505.5,0.006,0.004],[505.9,0.018,0.004],[506.6,0.010,0.004],[507.3,0.014,0.004],[508,0.016,0.004],[508.8,0.008,0.004],[509.6,0.006,0.004],[510.5,0.010,0.004],[511.3,0.005,0.004],
  [512.3,0.004,0.003],[513.3,0.007,0.004],[514.3,0.004,0.003],[515.2,0.008,0.004],[516.2,0.005,0.004],[517,0.012,0.004],[518,0.006,0.004],[519.2,0.015,0.004],[520,0.008,0.004],[520.8,0.010,0.004],[521.6,0.006,0.004],[522.6,0.008,0.004],[523.5,0.006,0.004],[524.4,0.009,0.004],
  [525.3,0.005,0.004],[526.2,0.007,0.004],[527.2,0.004,0.003],[528.2,0.006,0.004],[529.3,0.004,0.003],[530.3,0.006,0.004],[531.3,0.003,0.003],[532.3,0.004,0.003],[533.2,0.005,0.004],[534.2,0.007,0.004],[534.9,0.012,0.004],
  [535.6,0.030,0.005],[535.9,0.065,0.006],[536.3,0.100,0.007],[536.6,0.095,0.007],[537,0.040,0.005],[537.5,0.010,0.004],[538.2,0.004,0.003],[539,0.008,0.004],[539.8,0.006,0.004],[540.8,0.010,0.004],[541.7,0.008,0.004],[542.6,0.005,0.004],[543.5,0.012,0.004],[544.4,0.008,0.004],
  [545.3,0.006,0.004],[546.3,0.010,0.004],[547.2,0.008,0.004],[547.8,0.012,0.004],[548.4,0.037,0.005],[548.9,0.016,0.004],[549.6,0.010,0.004],[550.5,0.005,0.004],[551.5,0.008,0.004],[552.5,0.004,0.003],[553.5,0.015,0.004],[554.3,0.012,0.004],[555,0.006,0.004],[556,0.004,0.003],
  [557,0.008,0.004],[558,0.005,0.004],[559,0.008,0.004],[560,0.006,0.004],[561,0.004,0.003],[562,0.008,0.004],[563,0.004,0.003],[564,0.006,0.004],[565,0.004,0.003],[566,0.006,0.004],[567,0.008,0.004],[568,0.004,0.003],[569.5,0.006,0.004],[571,0.004,0.003],[573,0.006,0.004],
  [575,0.003,0.003],[577,0.004,0.003],[579,0.006,0.004],[580.5,0.003,0.003],[582,0.004,0.003],[583.5,0.005,0.004],[585,0.003,0.003],[586,0.004,0.003],[587,0.006,0.004],[588,0.008,0.004],[589,0.005,0.004],[590,0.004,0.003],[591,0.008,0.004],[592,0.006,0.004],[593,0.004,0.003],
  [594,0.008,0.004],[595,0.010,0.004],[596.3,0.015,0.004],[597,0.008,0.004],[598,0.005,0.004],[599,0.006,0.004],[599.8,0.003,0.003]
];

const isotopeMass = ["Nat20mil", "161", "162", "163", "164"];
const isotopeName = "Dy";
const yMajorFirst = [0, 0.05, 0.1, 0.15, 0.2];
const yMinorFirst = [0.025, 0.075, 0.125, 0.175];
const yMajor = [0, 0.1, 0.2];
const yMinor = [0.05, 0.15];
const yLabelled = [[0, 0.05, 0.1, 0.15, 0.2], [0, 0.2], [0, 0.1, 0.2], [0, 0.2], [0, 0.1, 0.2]];
const xMajor = [400, 420, 440, 460, 480, 500, 520, 540, 560, 580, 600];
const xMinor = [410, 430, 450, 470, 490, 510, 530, 550, 570, 590];
const legendNames = ["Yield", "ENDF/B-VII.0", "Present"];

const curves = [natCurve, dy161Curve, dy162Curve, dy163Curve, dy164Curve];
const yields = [natYield, dy161Yield, dy162Yield, dy163Yield, dy164Yield];

const W = 1904, H = 1262;
const plotLeft = 133, plotRight = 1862, plotTop = 21, panelH = 228;
const labelX = [1613, 1688, 1688, 1687, 1688];
const labelY = [115, 353, 589, 824, 1053];

const serif = "'Liberation Serif', 'Times New Roman', serif";
const sans = "'Liberation Sans', Arial, sans-serif";

const svg = d3.select("#chart").append("svg")
  .attr("width", W).attr("height", H);

// background
const grad = svg.append("defs").append("linearGradient")
  .attr("id", "bg").attr("gradientUnits", "userSpaceOnUse")
  .attr("x1", 0).attr("y1", H).attr("x2", 1400).attr("y2", -180);
[[0, "#f2e7f5"], [0.3, "#c6d8ef"], [0.45, "#a9cdf3"], [0.62, "#90c4f8"], [0.8, "#84bdf9"], [1, "#64a3fa"]]
  .forEach(s => grad.append("stop").attr("offset", s[0]).attr("stop-color", s[1]));
svg.append("rect").attr("width", W).attr("height", H).attr("fill", "url(#bg)");

// red blob peeking in at the bottom edge
svg.append("circle").attr("cx", 1658).attr("cy", 1291).attr("r", 32)
  .attr("fill", "#b3161b").attr("stroke", "#e02020").attr("stroke-width", 2);

const x = d3.scaleLinear().domain([400, 600]).range([plotLeft, plotRight]);

function styleAxis(sel, width) {
  sel.select(".domain").attr("stroke", "#000").attr("stroke-width", width);
  sel.selectAll(".tick line").attr("stroke", "#000").attr("stroke-width", 2);
}

curves.forEach((curve, i) => {
  const zero = plotTop + panelH * (i + 1);
  const y = d3.scaleLinear().domain([0, 0.2]).range([zero, zero - panelH]);
  const major = i === 0 ? yMajorFirst : yMajor;
  const minor = i === 0 ? yMinorFirst : yMinor;
  const fmt = d3.format(i === 0 ? ".2f" : ".1f");
  const g = svg.append("g");

  // left axis, ticks outward
  const la = g.append("g").attr("transform", `translate(${plotLeft},0)`)
    .call(d3.axisLeft(y).tickValues(major).tickSize(10).tickSizeOuter(0).tickPadding(6)
      .tickFormat(v => yLabelled[i].includes(v) ? fmt(v) : ""));
  styleAxis(la, 2.5);
  la.selectAll("text").attr("font-family", sans).attr("font-size", 22).attr("fill", "#000");
  const lm = g.append("g").attr("transform", `translate(${plotLeft},0)`)
    .call(d3.axisLeft(y).tickValues(minor).tickSize(6).tickSizeOuter(0).tickFormat(""));
  styleAxis(lm, 2.5);

  // right axis, ticks inward
  const ra = g.append("g").attr("transform", `translate(${plotRight},0)`)
    .call(d3.axisLeft(y).tickValues(major).tickSize(10).tickSizeOuter(0).tickFormat(""));
  styleAxis(ra, 2.5);
  const rm = g.append("g").attr("transform", `translate(${plotRight},0)`)
    .call(d3.axisLeft(y).tickValues(minor).tickSize(6).tickSizeOuter(0).tickFormat(""));
  styleAxis(rm, 2.5);

  // top frame on first panel, ticks inward
  if (i === 0) {
    const ta = g.append("g").attr("transform", `translate(0,${plotTop})`)
      .call(d3.axisBottom(x).tickValues(xMajor).tickSize(10).tickSizeOuter(0).tickFormat(""));
    styleAxis(ta, 2.5);
    const tm = g.append("g").attr("transform", `translate(0,${plotTop})`)
      .call(d3.axisBottom(x).tickValues(xMinor).tickSize(6).tickSizeOuter(0).tickFormat(""));
    styleAxis(tm, 2.5);
  }

  // zero line of each panel, ticks downward
  const last = i === curves.length - 1;
  const ba = g.append("g").attr("transform", `translate(0,${zero})`)
    .call(d3.axisBottom(x).tickValues(xMajor).tickSize(10).tickSizeOuter(0).tickPadding(8)
      .tickFormat(last ? d3.format("d") : ""));
  styleAxis(ba, 2.8);
  ba.selectAll("text").attr("font-family", sans).attr("font-size", 26).attr("fill", "#000");
  const bm = g.append("g").attr("transform", `translate(0,${zero})`)
    .call(d3.axisBottom(x).tickValues(xMinor).tickSize(6).tickSizeOuter(0).tickFormat(""));
  styleAxis(bm, 2.8);

  // ENDF and Present curves
  const line = col => d3.line().x(d => x(d[0])).y(d => y(d[col])).curve(d3.curveMonotoneX);
  g.append("path").datum(curve).attr("d", line(2))
    .attr("fill", "none").attr("stroke", "#0000ff").attr("stroke-width", 2.6)
    .attr("stroke-dasharray", "8,2.5,2,2.5");
  g.append("path").datum(curve).attr("d", line(1))
    .attr("fill", "none").attr("stroke", "#ff0000").attr("stroke-width", 3.2)
    .attr("stroke-linejoin", "round");

  // measured yield with error bars
  const pts = g.append("g").selectAll("g").data(yields[i]).join("g")
    .attr("transform", d => `translate(${x(d[0])},0)`);
  pts.append("path")
    .attr("d", d => {
      const a = y(d[1] + d[2]), b = y(d[1] - d[2]);
      return `M-4,${a}H4M0,${a}V${b}M-4,${b}H4`;
    })
    .attr("stroke", "#111").attr("stroke-width", 1.3).attr("fill", "none");
  pts.append("circle").attr("cy", d => y(d[1])).attr("r", 2.4)
    .attr("fill", "#fff").attr("stroke", "#000").attr("stroke-width", 1);

  // isotope label
  const t = g.append("text").attr("x", labelX[i]).attr("y", labelY[i])
    .attr("font-family", serif).attr("font-weight", "bold").attr("fill", "#ff0000");
  t.append("tspan").attr("font-size", 27).attr("dy", -14).text(isotopeMass[i]);
  t.append("tspan").attr("font-size", 44).attr("dy", 14).text(isotopeName);
});

// legend
const lg = svg.append("g").attr("font-family", serif).attr("font-weight", "bold").attr("font-size", 36);
lg.append("circle").attr("cx", 814).attr("cy", 532).attr("r", 3.2)
  .attr("fill", "#fff").attr("stroke", "#000").attr("stroke-width", 1.2);
lg.append("line").attr("x1", 772).attr("x2", 855).attr("y1", 577).attr("y2", 577)
  .attr("stroke", "#0000ff").attr("stroke-width", 2.6).attr("stroke-dasharray", "8,2.5,2,2.5");
lg.append("line").attr("x1", 772).attr("x2", 855).attr("y1", 622).attr("y2", 622)
  .attr("stroke", "#ff0000").attr("stroke-width", 3.2);
legendNames.forEach((n, k) => {
  lg.append("text").attr("x", 864).attr("y", 544 + k * 45.5).attr("fill", "#000").text(n);
});

// axis titles
svg.append("text").attr("transform", "translate(50,526) rotate(-90)")
  .attr("text-anchor", "middle").attr("font-family", serif).attr("font-weight", "bold")
  .attr("font-size", 54).attr("fill", "#000").text("Capture Yield");
svg.append("text").attr("x", 985).attr("y", 1247)
  .attr("text-anchor", "middle").attr("font-family", serif).attr("font-weight", "bold")
  .attr("font-size", 53).attr("fill", "#000").text("Neutron Energy [eV]");
</script>
</body>
</html>
